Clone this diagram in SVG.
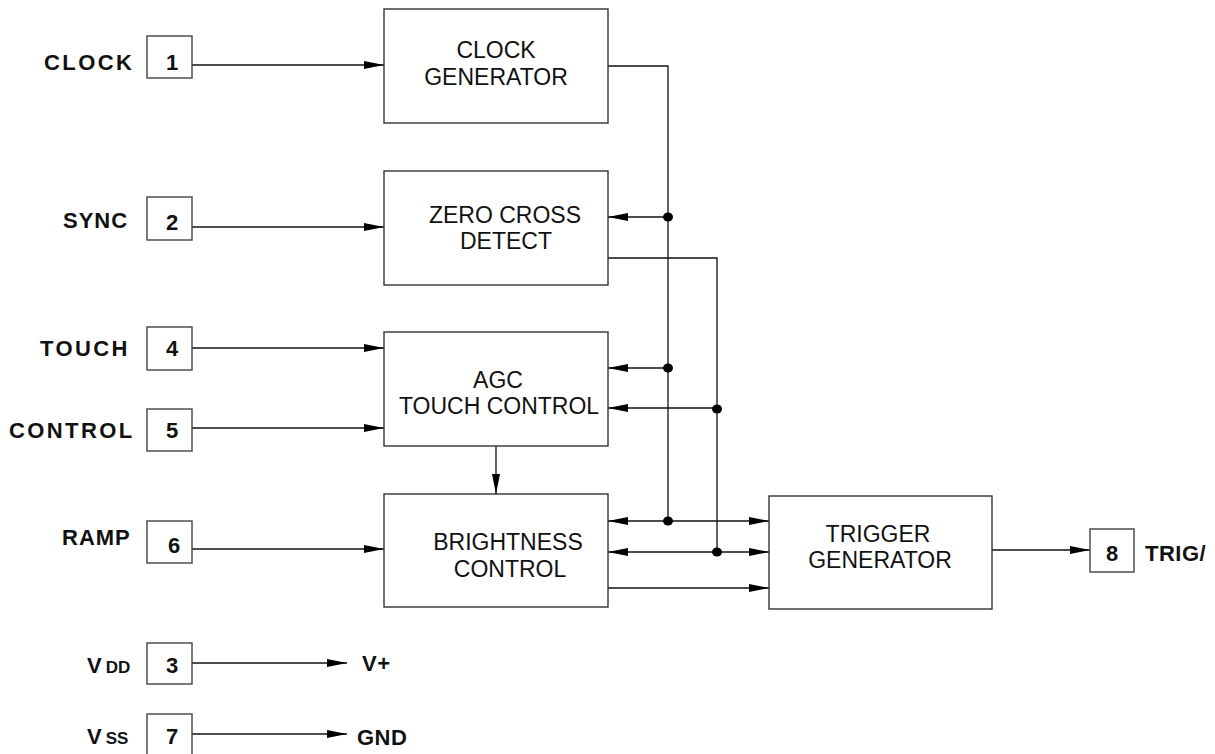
<svg xmlns="http://www.w3.org/2000/svg" width="1215" height="754" viewBox="0 0 1215 754">
<style>
.box{fill:#fff;stroke:#333;stroke-width:1.4}
.pin{fill:#fff;stroke:#444;stroke-width:1.4}
.ln{fill:none;stroke:#111;stroke-width:1.3}
.bt{font-family:"Liberation Sans",Arial,sans-serif;font-size:23px;fill:#111;text-anchor:middle}
.pl{font-family:"Liberation Sans",Arial,sans-serif;font-size:22px;font-weight:bold;fill:#111;letter-spacing:2.4px}
.pn{font-family:"Liberation Sans",Arial,sans-serif;font-size:22px;font-weight:bold;fill:#111;text-anchor:middle}
.dot{fill:#000}
</style>
<defs>
<marker id="ah" markerUnits="userSpaceOnUse" markerWidth="21" markerHeight="9" refX="20" refY="4" orient="auto-start-reverse">
<path d="M0,0 L20,4 L0,8 z" fill="#000"/>
</marker>
</defs>
<rect width="1215" height="754" fill="#fff"/>

<g id="connectors">
<line class="ln" x1="192" y1="65" x2="384" y2="65" marker-end="url(#ah)"/>
<line class="ln" x1="192" y1="227" x2="384" y2="227" marker-end="url(#ah)"/>
<line class="ln" x1="192" y1="348" x2="384" y2="348" marker-end="url(#ah)"/>
<line class="ln" x1="192" y1="428" x2="384" y2="428" marker-end="url(#ah)"/>
<line class="ln" x1="192" y1="549" x2="384" y2="549" marker-end="url(#ah)"/>
<line class="ln" x1="192" y1="663" x2="347" y2="663" marker-end="url(#ah)"/>
<line class="ln" x1="192" y1="734" x2="347" y2="734" marker-end="url(#ah)"/>
<polyline class="ln" points="608,66 668,66 668,521"/>
<polyline class="ln" points="608,258 717,258 717,552"/>
<line class="ln" x1="668" y1="217" x2="608" y2="217" marker-end="url(#ah)"/>
<line class="ln" x1="668" y1="368" x2="608" y2="368" marker-end="url(#ah)"/>
<line class="ln" x1="717" y1="408" x2="608" y2="408" marker-end="url(#ah)"/>
<line class="ln" x1="496" y1="446" x2="496" y2="494" marker-end="url(#ah)"/>
<line class="ln" x1="608" y1="521" x2="769" y2="521" marker-start="url(#ah)" marker-end="url(#ah)"/>
<line class="ln" x1="608" y1="552" x2="769" y2="552" marker-start="url(#ah)" marker-end="url(#ah)"/>
<line class="ln" x1="608" y1="588" x2="769" y2="588" marker-end="url(#ah)"/>
<line class="ln" x1="992" y1="550" x2="1090" y2="550" marker-end="url(#ah)"/>
<ellipse class="dot" cx="668" cy="217" rx="5" ry="4.5"/>
<ellipse class="dot" cx="668" cy="368" rx="5" ry="4.5"/>
<ellipse class="dot" cx="717" cy="409" rx="5" ry="4.5"/>
<ellipse class="dot" cx="668" cy="521" rx="5" ry="4.5"/>
<ellipse class="dot" cx="717" cy="552" rx="5" ry="4.5"/>
</g>

<g id="clock-generator">
<rect class="box" x="384" y="9" width="224" height="114"/>
<text class="bt" x="496" y="58">CLOCK</text>
<text class="bt" x="496" y="85">GENERATOR</text>
</g>
<g id="zero-cross-detect">
<rect class="box" x="384" y="171" width="224" height="114"/>
<text class="bt" x="505" y="223">ZERO CROSS</text>
<text class="bt" x="506" y="249">DETECT</text>
</g>
<g id="agc-touch-control">
<rect class="box" x="384" y="332" width="224" height="114"/>
<text class="bt" x="498" y="388">AGC</text>
<text class="bt" x="499" y="414">TOUCH CONTROL</text>
</g>
<g id="brightness-control">
<rect class="box" x="384" y="494" width="224" height="113"/>
<text class="bt" x="508" y="550">BRIGHTNESS</text>
<text class="bt" x="510" y="577">CONTROL</text>
</g>
<g id="trigger-generator">
<rect class="box" x="769" y="496" width="223" height="113"/>
<text class="bt" x="878" y="542">TRIGGER</text>
<text class="bt" x="880" y="568">GENERATOR</text>
</g>

<g id="pin1">
<rect class="pin" x="147" y="36" width="45" height="42"/>
<text class="pn" x="172" y="70">1</text>
<text class="pl" x="44" y="70">CLOCK</text>
</g>
<g id="pin2">
<rect class="pin" x="147" y="197" width="45" height="43"/>
<text class="pn" x="172" y="230">2</text>
<text class="pl" x="63" y="228" style="letter-spacing:1px">SYNC</text>
</g>
<g id="pin4">
<rect class="pin" x="147" y="327" width="45" height="43"/>
<text class="pn" x="172" y="356">4</text>
<text class="pl" x="40" y="356">TOUCH</text>
</g>
<g id="pin5">
<rect class="pin" x="147" y="409" width="45" height="42"/>
<text class="pn" x="172" y="438">5</text>
<text class="pl" x="9" y="438">CONTROL</text>
</g>
<g id="pin6">
<rect class="pin" x="147" y="521" width="45" height="42"/>
<text class="pn" x="174" y="553">6</text>
<text class="pl" x="62" y="545" style="letter-spacing:1px">RAMP</text>
</g>
<g id="pin3">
<rect class="pin" x="147" y="643" width="45" height="41"/>
<text class="pn" x="172" y="673">3</text>
<text class="pl" x="87" y="673" style="letter-spacing:0">V<tspan font-size="17" dx="4">DD</tspan></text>
<text class="pl" x="362" y="671" style="letter-spacing:0.5px">V+</text>
</g>
<g id="pin7">
<rect class="pin" x="147" y="714" width="45" height="42"/>
<text class="pn" x="172" y="744">7</text>
<text class="pl" x="87" y="744" style="letter-spacing:0">V<tspan font-size="17" dx="4">SS</tspan></text>
<text class="pl" x="357" y="745" style="letter-spacing:0.5px">GND</text>
</g>
<g id="pin8">
<rect class="pin" x="1090" y="529" width="44" height="43"/>
<text class="pn" x="1112" y="561">8</text>
<text class="pl" x="1145" y="561" style="letter-spacing:0.5px">TRIG/</text>
</g>
</svg>
